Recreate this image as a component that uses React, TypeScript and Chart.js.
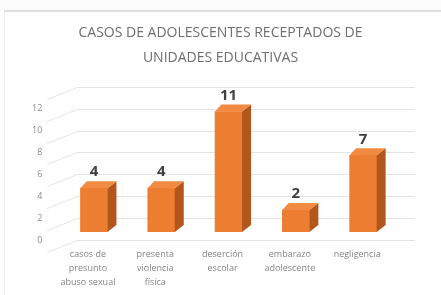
import React, { useEffect, useRef } from 'react';
import { Chart, registerables } from 'chart.js';

Chart.register(...registerables);

const categories: string[][] = [
  ['casos de', 'presunto', 'abuso sexual'],
  ['presenta', 'violencia', 'física'],
  ['deserción', 'escolar'],
  ['embarazo', 'adolescente'],
  ['negligencia'],
];
const values: number[] = [4, 4, 11, 2, 7];
const yTickLabels: number[] = [0, 2, 4, 6, 8, 10, 12];
const titleLines: string[] = ['CASOS DE ADOLESCENTES RECEPTADOS DE', 'UNIDADES EDUCATIVAS'];

const FRONT = '#ED7D31';
const SIDE = '#B3561B';
const TOP = '#F28A42';

const threeD = {
  id: 'threeD',
  beforeDatasetsDraw(chart: any) {
    const ctx = chart.ctx;
    const ys = chart.scales.y;
    const area = chart.chartArea;
    const xFront = area.left - 13;
    const xBack = area.left + 17;
    const xRight = area.right + 18;
    ctx.save();
    ctx.strokeStyle = '#e4e4e4';
    ctx.lineWidth = 1;
    ys.ticks.forEach((t: any) => {
      const py = Math.round(ys.getPixelForValue(t.value) + 8) + 0.5;
      ctx.beginPath();
      ctx.moveTo(xFront, py + 12);
      ctx.lineTo(xBack, py);
      ctx.lineTo(xRight, py);
      ctx.stroke();
    });
    ctx.restore();
  },
  afterDatasetsDraw(chart: any) {
    const ctx = chart.ctx;
    const meta = chart.getDatasetMeta(0);
    const dx = 9;
    const dy = 7;
    ctx.save();
    meta.data.forEach((bar: any, i: number) => {
      const { x, y, base, width } = bar.getProps(['x', 'y', 'base', 'width'], true);
      const l = x - width / 2;
      const r = x + width / 2;
      ctx.fillStyle = SIDE;
      ctx.beginPath();
      ctx.moveTo(r, y);
      ctx.lineTo(r + dx, y - dy);
      ctx.lineTo(r + dx, base - dy);
      ctx.lineTo(r, base);
      ctx.closePath();
      ctx.fill();
      ctx.fillStyle = TOP;
      ctx.beginPath();
      ctx.moveTo(l, y);
      ctx.lineTo(l + dx * 0.7, y - dy);
      ctx.lineTo(r + dx, y - dy);
      ctx.lineTo(r, y);
      ctx.closePath();
      ctx.fill();
      ctx.fillStyle = '#404040';
      ctx.font = 'bold 15px "Open Sans"';
      ctx.textAlign = 'center';
      ctx.textBaseline = 'middle';
      ctx.fillText(String(values[i]), x, y - 16);
    });
    ctx.restore();
  },
};

export default function App() {
  const ref = useRef<HTMLCanvasElement>(null);
  useEffect(() => {
    const chart = new Chart(ref.current as HTMLCanvasElement, {
      type: 'bar',
      data: {
        labels: categories,
        datasets: [
          {
            data: values,
            backgroundColor: FRONT,
            borderWidth: 0,
            barThickness: 27,
          },
        ],
      },
      options: {
        responsive: false,
        animation: false,
        layout: { padding: { left: 0, right: 0, top: 0, bottom: 0 } },
        plugins: {
          legend: { display: false },
          tooltip: { enabled: false },
          title: {
            display: true,
            text: titleLines,
            color: '#6e6e6e',
            font: { family: 'Open Sans', size: 14, lineHeight: 25 / 14, weight: 'normal' },
            padding: { top: 20.5, bottom: 8.2 },
          },
        },
        scales: {
          x: {
            grid: { display: false, drawTicks: false },
            border: { display: false },
            ticks: {
              padding: 15,
              labelOffset: -6,
              color: '#858585',
              font: { family: 'Open Sans', size: 9, lineHeight: 14 / 9 },
              maxRotation: 0,
              autoSkip: false,
            },
            afterFit(s: any) {
              s.height = 63;
            },
          },
          y: {
            min: 0,
            max: 14,
            grid: { display: false, drawTicks: false },
            border: { display: false },
            ticks: {
              stepSize: 2,
              padding: 18,
              labelOffset: 8,
              color: '#8c8c8c',
              font: { family: 'Open Sans', size: 9 },
              callback: (v: any) => (yTickLabels.includes(Number(v)) ? String(v) : ''),
            },
            afterFit(s: any) {
              s.width = 60.3;
            },
          },
          yRight: {
            position: 'right',
            display: true,
            min: 0,
            max: 14,
            grid: { display: false, drawTicks: false },
            border: { display: false },
            ticks: { display: false },
            afterFit(s: any) {
              s.width = 44.2;
            },
          },
        },
      },
      plugins: [threeD],
    });
    return () => chart.destroy();
  }, []);
  return (
    <div style={{ position: 'fixed', left: 0, top: 0, width: 441, height: 295, background: '#ffffff' }}>
      <div style={{ position: 'absolute', left: 0, top: 0, width: 441, height: 10, background: '#fcfcfc' }} />
      <div
        style={{
          position: 'absolute',
          left: 4,
          top: 10,
          right: 0,
          bottom: 0,
          borderTop: '2px solid #dedede',
          borderLeft: '1px solid #ececec',
        }}
      />
      <canvas
        ref={ref}
        width={441}
        height={295}
        style={{ position: 'absolute', left: 0, top: 0, width: 441, height: 295 }}
      />
    </div>
  );
}
